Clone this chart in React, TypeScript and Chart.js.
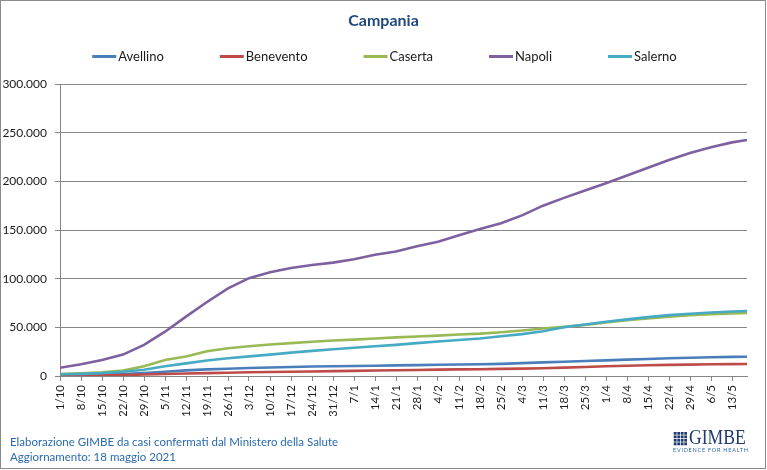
import React, { useEffect, useRef } from 'react';
import { Chart, registerables } from 'chart.js';

Chart.register(...registerables);

// ---- DATA ----
const chartTitle = 'Campania';
const seriesNames = ['Avellino', 'Benevento', 'Caserta', 'Napoli', 'Salerno'];

// day index counted from 1/10/2020 (last point = 18/5/2021)
const dayIndex = [0, 7, 14, 21, 28, 35, 42, 49, 56, 63, 70, 77, 84, 91, 98, 105, 112, 119, 126, 133, 140, 147, 154, 161, 168, 175, 182, 189, 196, 203, 210, 217, 224, 229];

const tickLabels = ['1/10', '8/10', '15/10', '22/10', '29/10', '5/11', '12/11', '19/11', '26/11', '3/12', '10/12', '17/12', '24/12', '31/12', '7/1', '14/1', '21/1', '28/1', '4/2', '11/2', '18/2', '25/2', '4/3', '11/3', '18/3', '25/3', '1/4', '8/4', '15/4', '22/4', '29/4', '6/5', '13/5'];

const avellino = [1000, 1200, 1500, 2000, 3000, 4300, 5800, 6800, 7500, 8200, 8800, 9300, 9700, 10000, 10300, 10600, 10900, 11200, 11500, 11800, 12000, 12500, 13200, 14000, 14700, 15400, 16100, 16800, 17500, 18200, 18800, 19300, 19600, 19800];
const benevento = [400, 500, 700, 1000, 1500, 2000, 2600, 3000, 3400, 3800, 4100, 4400, 4700, 5000, 5300, 5600, 5900, 6200, 6500, 6800, 7000, 7300, 7600, 8000, 8600, 9300, 10000, 10600, 11000, 11400, 11700, 12000, 12200, 12400];
const caserta = [2000, 2800, 3800, 5500, 10000, 16500, 20000, 25500, 28500, 30500, 32300, 33800, 35200, 36400, 37400, 38500, 39700, 40600, 41500, 42600, 43500, 45000, 46800, 48800, 50500, 52500, 55000, 57300, 59200, 61000, 62400, 63600, 64300, 64800];
const napoli = [8500, 12000, 16500, 22000, 32000, 45500, 61000, 76000, 90000, 100500, 106500, 111000, 114000, 116500, 120000, 124500, 128000, 133300, 138000, 144500, 151000, 157000, 165000, 175000, 183000, 190500, 198000, 206000, 214000, 222000, 229000, 235000, 240000, 242500];
const salerno = [1800, 2200, 3000, 4300, 6500, 10000, 13000, 16000, 18300, 20200, 22000, 24000, 25800, 27500, 29000, 30500, 32000, 33800, 35500, 37000, 38500, 40800, 43000, 46000, 50000, 53000, 55800, 58200, 60500, 62500, 64000, 65300, 66300, 66800];

const seriesValues = [avellino, benevento, caserta, napoli, salerno];
const seriesColors = ['#4A7EBB', '#BE4B48', '#98B954', '#7D60A0', '#46AAC5'];

const yTicks = [0, 50000, 100000, 150000, 200000, 250000, 300000];

const FONT = 'Lato, "Open Sans", sans-serif';

function formatIt(v: number): string {
  return String(Math.round(v)).replace(/\B(?=(\d{3})+(?!\d))/g, '.');
}

const titleAndLegend = {
  id: 'titleAndLegend',
  afterDraw(chart: any) {
    const ctx = chart.ctx as CanvasRenderingContext2D;
    const ds = chart.data.datasets;
    ctx.save();
    // title
    ctx.font = 'bold 16px ' + FONT;
    ctx.fillStyle = '#1F497D';
    ctx.textAlign = 'center';
    ctx.textBaseline = 'middle';
    ctx.fillText(chartTitle, chart.width / 2, 21);
    // legend
    ctx.font = '13px ' + FONT;
    const lineLen = 24;
    const gap = 2;
    const spacing = 56;
    const widths = ds.map((d: any) => lineLen + gap + ctx.measureText(d.label).width);
    const total = widths.reduce((a: number, b: number) => a + b, 0) + spacing * (ds.length - 1);
    let x = (chart.width - total) / 2 + 1;
    const y = 56.5;
    ds.forEach((d: any, i: number) => {
      ctx.strokeStyle = d.borderColor;
      ctx.lineWidth = 3;
      ctx.beginPath();
      ctx.moveTo(x, y);
      ctx.lineTo(x + lineLen, y);
      ctx.stroke();
      ctx.fillStyle = '#1a1a1a';
      ctx.textBaseline = 'middle';
      ctx.textAlign = 'left';
      ctx.fillText(d.label, x + lineLen + gap, y + 0.5);
      x += widths[i] + spacing;
    });
    ctx.restore();
  },
};

export default function App() {
  const canvasRef = useRef<HTMLCanvasElement | null>(null);

  useEffect(() => {
    if (!canvasRef.current) return;
    const tickDays = dayIndex.slice(0, tickLabels.length);
    const labelByDay = new Map<number, string>();
    tickDays.forEach((d, i) => labelByDay.set(d, tickLabels[i]));

    const chart = new Chart(canvasRef.current, {
      type: 'line',
      data: {
        datasets: seriesNames.map((name, i) => ({
          label: name,
          data: dayIndex.map((d, j) => ({ x: d, y: seriesValues[i][j] })),
          borderColor: seriesColors[i],
          backgroundColor: seriesColors[i],
          borderWidth: 2.6,
          pointRadius: 0,
          pointHoverRadius: 0,
          tension: 0,
          fill: false,
          order: seriesNames.length - i,
        })),
      },
      plugins: [titleAndLegend],
      options: {
        responsive: false,
        animation: false,
        events: [],
        layout: { padding: { left: 0, right: 20, top: 84, bottom: 54 } },
        plugins: {
          legend: { display: false },
          tooltip: { enabled: false },
          title: { display: false },
        },
        scales: {
          x: {
            type: 'linear',
            min: dayIndex[0],
            max: dayIndex[dayIndex.length - 1],
            afterBuildTicks: (scale: any) => {
              scale.ticks = tickDays.map((v) => ({ value: v }));
            },
            afterFit: (scale: any) => {
              scale.height = 40;
            },
            ticks: {
              autoSkip: false,
              minRotation: 90,
              maxRotation: 90,
              padding: 4,
              color: '#1a1a1a',
              font: { family: FONT, size: 11.5 },
              callback: (value: any) => labelByDay.get(Number(value)) ?? '',
            },
            grid: {
              display: true,
              drawOnChartArea: false,
              drawTicks: true,
              tickLength: 5,
              color: '#868686',
            },
            border: { display: true, color: '#868686', width: 1 },
          },
          y: {
            type: 'linear',
            min: yTicks[0],
            max: yTicks[yTicks.length - 1],
            afterBuildTicks: (scale: any) => {
              scale.ticks = yTicks.map((v) => ({ value: v }));
            },
            afterFit: (scale: any) => {
              scale.width = 60;
            },
            ticks: {
              padding: 8,
              color: '#1a1a1a',
              font: { family: FONT, size: 12 },
              callback: (value: any) => formatIt(Number(value)),
            },
            grid: {
              color: '#868686',
              drawTicks: true,
              tickLength: 5,
            },
            border: { display: true, color: '#868686', width: 1 },
          },
        },
      },
    } as any);
    return () => chart.destroy();
  }, []);

  return (
    <div style={{ position: 'absolute', left: 0, top: 0, width: 767, height: 470, background: '#fff', overflow: 'hidden' }}>
      <canvas ref={canvasRef} width={767} height={470} style={{ position: 'absolute', left: 0, top: 0, width: 767, height: 470 }} />
      <div
        style={{
          position: 'absolute',
          left: 10,
          top: 434,
          fontFamily: FONT,
          fontSize: 11.5,
          lineHeight: '15px',
          color: '#2A6AAE',
          whiteSpace: 'nowrap',
        }}
      >
        <div>Elaborazione GIMBE da casi confermati dal Ministero della Salute</div>
        <div>Aggiornamento: 18 maggio 2021</div>
      </div>
      <div style={{ position: 'absolute', left: 673, top: 431, width: 76, height: 24 }}>
        <div
          style={{
            position: 'absolute',
            left: 0,
            top: 1,
            width: 14,
            height: 14,
            background: '#1F3A6E',
            backgroundImage:
              'linear-gradient(90deg, rgba(255,255,255,0.8) 1px, transparent 1px), linear-gradient(0deg, rgba(255,255,255,0.8) 1px, transparent 1px)',
            backgroundSize: '3.5px 3.5px',
          }}
        />
        <div
          style={{
            position: 'absolute',
            left: 16,
            top: -4,
            fontFamily: '"Liberation Serif", "DejaVu Serif", serif',
            fontSize: 21,
            lineHeight: '21px',
            color: '#1F3A6E',
            transform: 'scaleX(0.84)',
            transformOrigin: 'left top',
            whiteSpace: 'nowrap',
          }}
        >
          GIMBE
        </div>
        <div
          style={{
            position: 'absolute',
            left: 0,
            top: 16,
            fontFamily: FONT,
            fontSize: 5.5,
            letterSpacing: '0.75px',
            lineHeight: '6px',
            color: '#2A6AAE',
            whiteSpace: 'nowrap',
          }}
        >
          EVIDENCE FOR HEALTH
        </div>
      </div>
      <div style={{ position: 'absolute', left: 0, top: 0, width: 766, height: 469, border: '1px solid #8a8a8a', boxSizing: 'border-box', pointerEvents: 'none' }} />
    </div>
  );
}
